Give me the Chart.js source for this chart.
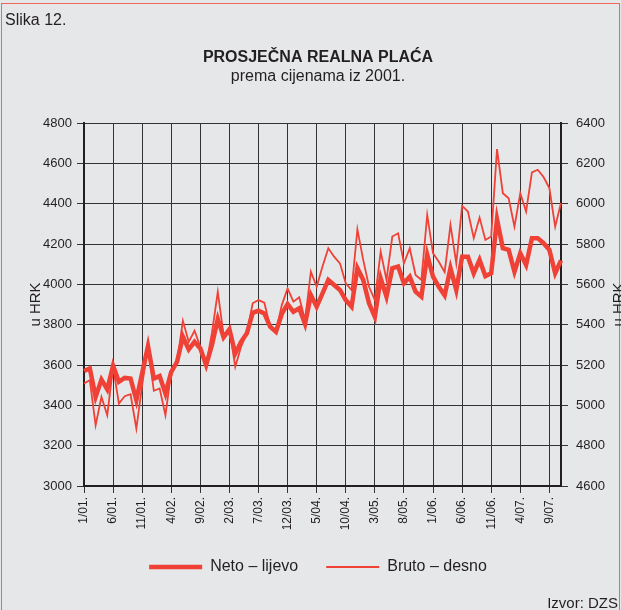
<!DOCTYPE html>
<html>
<head>
<meta charset="utf-8">
<script src="https://cdn.jsdelivr.net/npm/chart.js@4.4.0/dist/chart.umd.min.js"></script>
<style>
  body { margin: 0; background: #e6e7e9; overflow: hidden; font-family: "Liberation Sans", Arial, sans-serif; color: #231f20; }
  #frame { position: absolute; left: 1px; top: 3px; width: 617px; height: 640px; border: 1px solid #f0685c; }
  #chart { position: absolute; left: 0; top: 0; }
  .note { position: absolute; white-space: nowrap; }
</style>
</head>
<body>
<div id="frame"></div>
<canvas id="chart" width="621" height="610"></canvas>
<div class="note" style="left:5px;top:11px;font-size:16px">Slika 12.</div>
<div class="note" style="right:3px;top:594px;font-size:15px">Izvor: DZS</div>
<script>
// mjeseci 1/01. - 11/07.
var months = [
  '1/01.','2/01.','3/01.','4/01.','5/01.','6/01.','7/01.','8/01.','9/01.','10/01.','11/01.','12/01.',
  '1/02.','2/02.','3/02.','4/02.','5/02.','6/02.','7/02.','8/02.','9/02.','10/02.','11/02.','12/02.',
  '1/03.','2/03.','3/03.','4/03.','5/03.','6/03.','7/03.','8/03.','9/03.','10/03.','11/03.','12/03.',
  '1/04.','2/04.','3/04.','4/04.','5/04.','6/04.','7/04.','8/04.','9/04.','10/04.','11/04.','12/04.',
  '1/05.','2/05.','3/05.','4/05.','5/05.','6/05.','7/05.','8/05.','9/05.','10/05.','11/05.','12/05.',
  '1/06.','2/06.','3/06.','4/06.','5/06.','6/06.','7/06.','8/06.','9/06.','10/06.','11/06.','12/06.',
  '1/07.','2/07.','3/07.','4/07.','5/07.','6/07.','7/07.','8/07.','9/07.','10/07.','11/07.'
];

// neto, lijeva os (HRK)
var neto = [
  3570, 3583, 3442, 3528, 3479, 3596, 3517, 3536, 3533, 3426, 3560, 3694,
  3533, 3545, 3459, 3566, 3616, 3740, 3677, 3715, 3682, 3600, 3700, 3828,
  3737, 3777, 3657, 3715, 3757, 3859, 3869, 3856, 3790, 3765, 3853, 3902,
  3864, 3881, 3803, 3947, 3889, 3955, 4022, 3997, 3972, 3922, 3889, 4080,
  4022, 3906, 3839, 4030, 3939, 4080, 4088, 4005, 4038, 3964, 3939, 4146,
  4038, 3988, 3945, 4080, 3972, 4137, 4137, 4055, 4121, 4041, 4055, 4323,
  4179, 4171, 4063, 4154, 4096, 4229, 4229, 4204, 4171, 4055, 4118
];

// bruto, desna os (HRK)
var bruto = [
  5108, 5125, 4901, 5042, 4951, 5191, 5009, 5045, 5055, 4885, 5100, 5294,
  5072, 5084, 4951, 5166, 5216, 5419, 5315, 5370, 5290, 5200, 5360, 5563,
  5348, 5377, 5191, 5290, 5360, 5506, 5522, 5509, 5390, 5365, 5497, 5580,
  5514, 5536, 5423, 5663, 5588, 5688, 5779, 5737, 5704, 5605, 5572, 5873,
  5721, 5588, 5522, 5762, 5622, 5837, 5853, 5704, 5779, 5646, 5622, 5944,
  5754, 5712, 5660, 5895, 5704, 5989, 5961, 5829, 5931, 5820, 5837, 6271,
  6052, 6027, 5886, 6052, 5961, 6155, 6168, 6132, 6077, 5886, 6003
];

var leftRange = [3000, 4800];
var rightRange = [4600, 6400];

var RED = '#ef4136';
var INK = '#231f20';
var GRID = '#333333';
var FONT = '"Liberation Sans", Arial, sans-serif';

Chart.defaults.font.family = FONT;
Chart.defaults.color = INK;

function every5(c) {
  return c.index % 5 === 0 ? GRID : 'rgba(0,0,0,0)';
}

// "u HRK" uz desnu os (odrezan rubom slike kao u originalu)
var rightTitle = {
  id: 'rightTitle',
  afterDraw: function(chart) {
    var c = chart.ctx, a = chart.chartArea;
    c.save();
    c.translate(619, (a.top + a.bottom) / 2);
    c.rotate(-Math.PI / 2);
    c.font = '15px ' + FONT;
    c.fillStyle = INK;
    c.textAlign = 'center';
    c.textBaseline = 'middle';
    c.fillText('u HRK', 0, 0);
    c.restore();
  }
};

var ctx = document.getElementById('chart');
var chart = new Chart(ctx, {
  type: 'line',
  data: {
    labels: months,
    datasets: [
      {
        label: 'Neto – lijevo',
        data: neto,
        yAxisID: 'y',
        borderColor: RED,
        backgroundColor: RED,
        borderWidth: 4.5,
        pointRadius: 0,
        pointStyle: 'line',
        tension: 0
      },
      {
        label: 'Bruto – desno',
        data: bruto,
        yAxisID: 'y1',
        borderColor: RED,
        backgroundColor: RED,
        borderWidth: 1.8,
        pointRadius: 0,
        pointStyle: 'line',
        tension: 0
      }
    ]
  },
  options: {
    responsive: false,
    animation: false,
    layout: { padding: { left: 15, right: 0, top: 0, bottom: 25 } },
    plugins: {
      title: {
        display: true,
        text: 'PROSJEČNA REALNA PLAĆA',
        color: INK,
        font: { size: 16, weight: 'bold' },
        padding: { top: 48, bottom: 0 }
      },
      subtitle: {
        display: true,
        text: 'prema cijenama iz 2001.',
        color: INK,
        font: { size: 16 },
        padding: { top: 0, bottom: 36.6 }
      },
      legend: {
        position: 'bottom',
        labels: {
          usePointStyle: true,
          pointStyleWidth: 53,
          font: { size: 16 },
          color: INK,
          padding: 28
        }
      },
      tooltip: { enabled: false }
    },
    scales: {
      x: {
        grid: { color: every5, tickColor: every5, tickLength: 7, lineWidth: 1 },
        border: { display: true, color: INK, width: 2 },
        ticks: {
          autoSkip: false,
          minRotation: 90,
          maxRotation: 90,
          padding: 4,
          font: { size: 12 },
          color: INK,
          callback: function(v, i) { return i % 5 === 0 ? months[i] : ''; }
        },
        afterFit: function(s) { s.height = 45; }
      },
      y: {
        position: 'left',
        min: leftRange[0],
        max: leftRange[1],
        grid: { color: GRID, tickColor: GRID, tickLength: 7, lineWidth: 1 },
        border: { display: true, color: INK, width: 2 },
        ticks: {
          stepSize: 200,
          padding: 5,
          font: { size: 13 },
          color: INK,
          callback: function(v) { return String(v); }
        },
        title: {
          display: true,
          text: 'u HRK',
          color: INK,
          font: { size: 15 },
          padding: { top: 12, bottom: 0 }
        },
        afterFit: function(s) { s.width = 69; }
      },
      y1: {
        position: 'right',
        min: rightRange[0],
        max: rightRange[1],
        grid: { drawOnChartArea: false, color: GRID, tickColor: GRID, tickLength: 7 },
        border: { display: true, color: INK, width: 2 },
        ticks: {
          stepSize: 200,
          padding: 8,
          font: { size: 13 },
          color: INK,
          callback: function(v) { return String(v); }
        },
        afterFit: function(s) { s.width = 60; }
      }
    }
  },
  plugins: [rightTitle]
});
</script>
</body>
</html>
